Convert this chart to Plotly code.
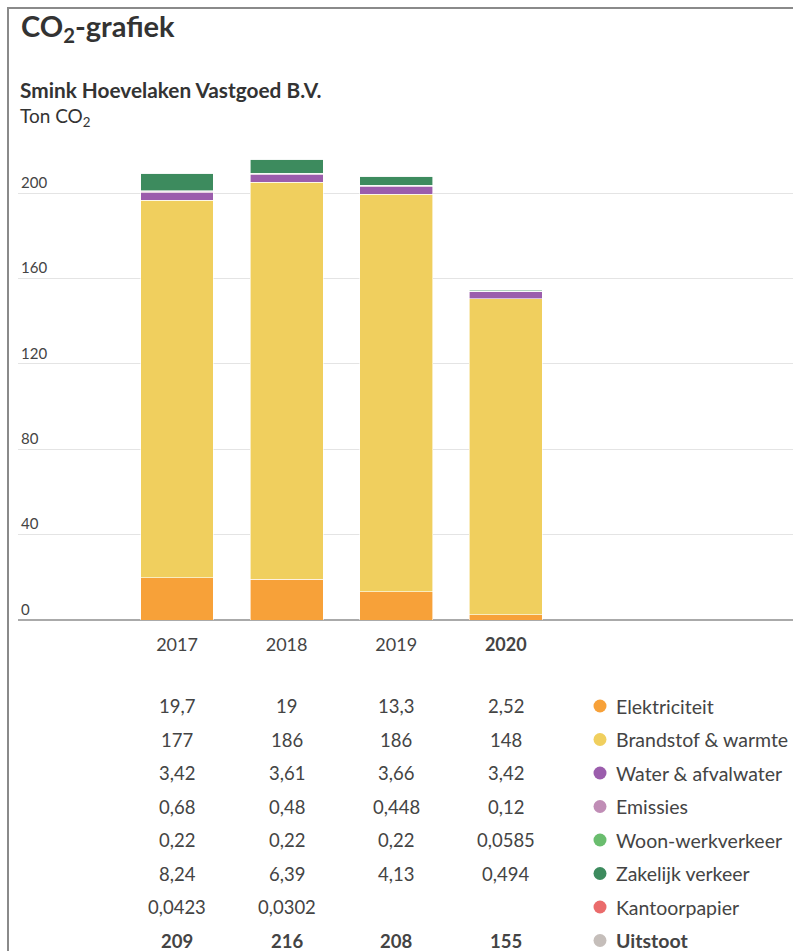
import plotly.graph_objects as go

years = ["2017", "2018", "2019", "2020"]
year_labels = ["2017", "2018", "2019", "<b>2020</b>"]
series_names = ["Elektriciteit", "Brandstof & warmte", "Water & afvalwater", "Emissies",
                "Woon-werkverkeer", "Zakelijk verkeer", "Kantoorpapier"]
elektriciteit = [19.7, 19, 13.3, 2.52]
brandstof = [177, 186, 186, 148]
water = [3.42, 3.61, 3.66, 3.42]
emissies = [0.68, 0.48, 0.448, 0.12]
woonwerk = [0.22, 0.22, 0.22, 0.0585]
zakelijk = [8.24, 6.39, 4.13, 0.494]
kantoorpapier = [0.0423, 0.0302, None, None]
totals = [209, 216, 208, 155]
total_label = "Uitstoot"
y_ticks = [0, 40, 80, 120, 160, 200]

colors = ["#F7A139", "#F0CF5E", "#9B5DAC", "#C08DB6", "#6ABD6E", "#3D8B5E", "#EA6B6B"]
total_color = "#C5BEBA"

series_values = [elektriciteit, brandstof, water, emissies, woonwerk, zakelijk, kantoorpapier]

W, H = 793, 951
L, R, T, B = 18, 0, 140, 331
plot_h = H - T - B
plot_w = W - L - R
FONT = "Lato, 'Source Sans Pro', sans-serif"
TXT = "#333333"

def py(p):
    return (H - B - p) / plot_h

def px(p):
    return (p - L) / plot_w

def fmt(v):
    s = ("%g" % v)
    return s.replace(".", ",")

xs = list(range(len(years)))
fig = go.Figure()
for name, vals, col in zip(series_names, series_values, colors):
    fig.add_trace(go.Bar(
        x=xs, y=[v if v is not None else 0 for v in vals], name=name,
        marker=dict(color=col, line=dict(color="white", width=0.6)),
        width=0.665, showlegend=False,
    ))

annotations = []
annotations.append(dict(text="<b>CO<sub>2</sub>-grafiek</b>", x=px(19), y=py(28), xref="paper", yref="paper",
                        xanchor="left", yanchor="middle", showarrow=False,
                        font=dict(family=FONT, size=29, color=TXT)))
annotations.append(dict(text="<b>Smink Hoevelaken Vastgoed B.V.</b>", x=px(18), y=py(89), xref="paper", yref="paper",
                        xanchor="left", yanchor="middle", showarrow=False,
                        font=dict(family=FONT, size=20.8, color=TXT)))
annotations.append(dict(text="Ton CO<sub>2</sub>", x=px(18), y=py(117), xref="paper", yref="paper",
                        xanchor="left", yanchor="middle", showarrow=False,
                        font=dict(family=FONT, size=19, color=TXT)))

row_y0, row_dy = 706, 33.5
rows = [(n, v, c, False) for n, v, c in zip(series_names, series_values, colors)]
rows.append((total_label, totals, total_color, True))
shapes = []
for i, (name, vals, col, bold) in enumerate(rows):
    yy = py(row_y0 + i * row_dy)
    for j, v in enumerate(vals):
        if v is None:
            continue
        t = fmt(v)
        if bold:
            t = "<b>%s</b>" % t
        annotations.append(dict(text=t, x=xs[j], y=yy, xref="x", yref="paper",
                                xanchor="center", yanchor="middle", showarrow=False,
                                font=dict(family=FONT, size=18.5, color="#444444")))
    lab = "<b>%s</b>" % name if bold else name
    annotations.append(dict(text=lab, x=px(614), y=yy, xref="paper", yref="paper",
                            xanchor="left", yanchor="middle", showarrow=False,
                            font=dict(family=FONT, size=19.5, color="#444444")))
    cy = row_y0 + i * row_dy
    shapes.append(dict(type="circle", xref="paper", yref="paper",
                       x0=px(593.5), x1=px(606.5), y0=py(cy + 6.5), y1=py(cy - 6.5),
                       fillcolor=col, line=dict(width=0)))

shapes.append(dict(type="line", xref="paper", yref="paper", x0=px(7), x1=px(793), y0=py(8), y1=py(8),
                   line=dict(color="#8a8a8a", width=2)))
shapes.append(dict(type="line", xref="paper", yref="paper", x0=px(8), x1=px(8), y0=py(7), y1=py(951),
                   line=dict(color="#8a8a8a", width=2)))

step_px = 109.6
x_left = -(177 - L) / step_px
x_right = x_left + plot_w / step_px

fig.update_layout(
    width=W, height=H, margin=dict(l=L, r=R, t=T, b=B),
    barmode="stack", bargap=0.3,
    paper_bgcolor="white", plot_bgcolor="white",
    font=dict(family=FONT, color=TXT),
    annotations=annotations, shapes=shapes,
    xaxis=dict(range=[x_left, x_right], tickvals=xs, ticktext=year_labels,
               showgrid=False, zeroline=False, showline=False, ticks="",
               tickfont=dict(family=FONT, size=18, color="#444444"), ticklabelstandoff=12),
    yaxis=dict(range=[0, (H - B - T) / 2.135], tickvals=y_ticks, ticktext=[str(v) for v in y_ticks],
               ticklabelposition="inside top", showgrid=True, gridcolor="#e4e4e4", gridwidth=1,
               zeroline=True, zerolinecolor="#aaaaaa", zerolinewidth=1.5, showline=False, ticks="",
               tickfont=dict(family=FONT, size=15, color="#444444")),
)

fig.write_html("out.html", config={"displayModeBar": False},
               post_script="document.documentElement.style.overflow='hidden';"
                           "document.body.style.margin='0';document.body.style.overflow='hidden';")
